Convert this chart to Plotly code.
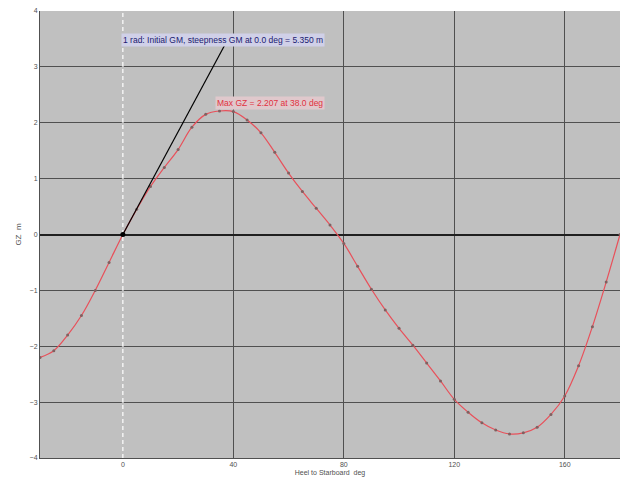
import plotly.graph_objects as go

heel_deg = [-30, -25, -20, -15, -10, -5, 0, 5, 10, 15, 20, 25, 30, 35, 40, 45, 50, 55, 60,
            65, 70, 75, 80, 85, 90, 95, 100, 105, 110, 115, 120, 125, 130, 135, 140, 145,
            150, 155, 160, 165, 170, 175, 180]
gz_m = [-2.20, -2.08, -1.80, -1.45, -1.00, -0.50, 0.00, 0.45, 0.86, 1.20, 1.52, 1.92, 2.15,
        2.21, 2.20, 2.05, 1.82, 1.47, 1.10, 0.77, 0.47, 0.17, -0.16, -0.57, -0.98, -1.35,
        -1.68, -1.98, -2.30, -2.62, -2.95, -3.18, -3.37, -3.50, -3.57, -3.55, -3.45, -3.22,
        -2.89, -2.35, -1.65, -0.85, 0.00]

gm_line_x = [0, 37]
gm_line_y = [0, 3.4]

x_ticks = [0, 40, 80, 120, 160]
y_ticks = [-4, -3, -2, -1, 0, 1, 2, 3, 4]

gm_label = "1 rad: Initial GM, steepness GM at 0.0 deg = 5.350 m"
max_label = "Max GZ = 2.207 at 38.0 deg"

fig = go.Figure()

# hide the grid line at 0 deg, then draw the white dashed upright line
fig.add_trace(go.Scatter(x=[0, 0], y=[-4, 4], mode="lines",
                         line=dict(color="#c0c0c0", width=2),
                         hoverinfo="skip", showlegend=False))
fig.add_trace(go.Scatter(x=[0, 0], y=[-4, 4], mode="lines",
                         line=dict(color="white", width=1.2, dash="4px,3px"),
                         hoverinfo="skip", showlegend=False))

fig.add_trace(go.Scatter(x=heel_deg, y=gz_m, mode="lines+markers",
                         line=dict(color="#e8505a", width=1.2, shape="spline"),
                         marker=dict(color="#806060", size=3),
                         showlegend=False))

fig.add_trace(go.Scatter(x=gm_line_x, y=gm_line_y, mode="lines",
                         line=dict(color="black", width=1.2),
                         showlegend=False))
fig.add_trace(go.Scatter(x=[0], y=[0], mode="markers",
                         marker=dict(color="black", size=5), showlegend=False))

fig.add_annotation(x=-0.5, y=3.48, xref="x", yref="y", text=gm_label, showarrow=False,
                   xanchor="left", yanchor="middle",
                   font=dict(family="Liberation Sans, Arial", size=8.5, color="#1a1a70"),
                   bgcolor="#d0d0e8")
fig.add_annotation(x=33.5, y=2.36, xref="x", yref="y", text=max_label, showarrow=False,
                   xanchor="left", yanchor="middle",
                   font=dict(family="Liberation Sans, Arial", size=8.5, color="#e03040"),
                   bgcolor="#e0c8cc")

fig.update_layout(
    width=624, height=479,
    margin=dict(l=40, r=4, t=11, b=21),
    paper_bgcolor="white",
    plot_bgcolor="#c0c0c0",
    font=dict(family="Liberation Sans, Arial", size=7, color="#505050"),
    xaxis=dict(range=[-30, 180], tickvals=x_ticks, showgrid=True, gridcolor="#505050",
               gridwidth=1, zeroline=False, showline=True, linecolor="#505050",
               ticks="", title=dict(text="Heel to Starboard  deg", font=dict(size=7), standoff=2)),
    yaxis=dict(range=[-4, 4], tickvals=y_ticks, showgrid=True, gridcolor="#505050",
               gridwidth=1, zeroline=True, zerolinecolor="#202020", zerolinewidth=1.5,
               showline=True, linecolor="#505050", ticks="",
               title=dict(text="GZ  m", font=dict(size=8), standoff=6)),
)

fig.write_html("out.html", config={"displayModeBar": False},
               post_script="document.body.style.margin='0';document.body.style.overflow='hidden';")
